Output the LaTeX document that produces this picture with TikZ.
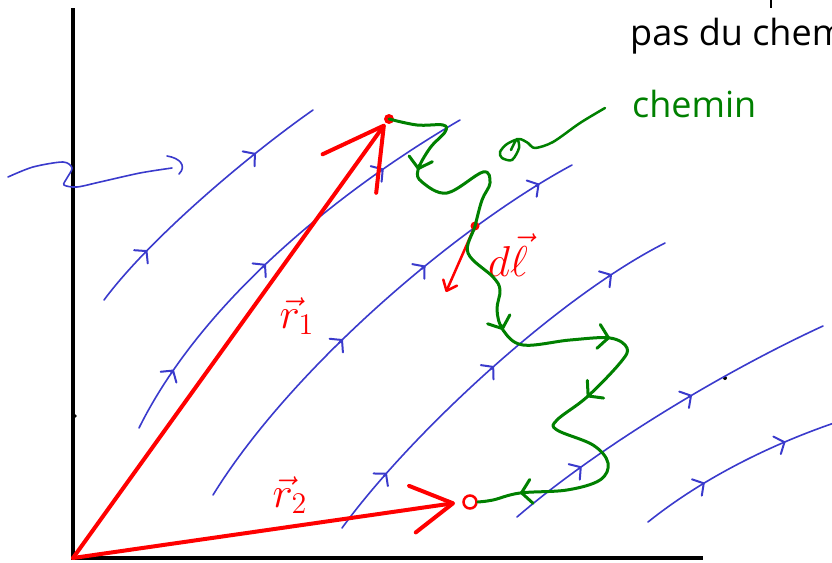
\documentclass[tikz,border=0pt]{standalone}
\usepackage{fontspec}
\setsansfont{Open Sans}
\usetikzlibrary{arrows.meta}
\definecolor{penblue}{RGB}{58,58,204}
\definecolor{pengreen}{RGB}{0,128,0}
\definecolor{penred}{RGB}{255,0,0}
\tikzset{
  fieldline/.style={penblue, line width=1.6pt, line cap=round, line join=round},
  fieldhead/.style={fieldline, line width=2pt, -{Straight Barb[length=8pt, width=19pt, round]}},
  pathline/.style={pengreen, line width=3pt, line cap=round, line join=round},
  pathhead/.style={pathline, -{Straight Barb[length=10pt, width=24pt, round]}},
  vecarrow/.style 2 args={penred, line width=4pt, line cap=round, -{Straight Barb[length=#1, width=#2, round]}},
  axisline/.style={black, line width=4pt},
  reddot/.style={circle, fill=penred, inner sep=0pt, minimum size=10pt},
  enddot/.style={circle, draw=penred, line width=2.5pt, inner sep=0pt, minimum size=13pt},
  vlabel/.style={text=penred, font=\LARGE, scale=2.5, inner sep=0pt},
  handtext/.style={font=\sffamily\fontsize{36}{42}\selectfont, inner sep=0pt}
}
\begin{document}
\begin{tikzpicture}[x=1pt, y=-1pt]
  \useasboundingbox (0,0) rectangle (832,562);
  \clip (0,0) rectangle (832,562);

  \draw[axisline] (73,8) -- (73,558) -- (703,558);
  \fill (75,416) circle (1.8);
  \fill (725,378) circle (2);
  \draw[line width=1.5pt] (771,0) -- (771,8);

  \node[handtext, anchor=base west] (pastxt) at (630,45) {pas du chemin};
  \node[handtext, anchor=base west, text=pengreen] (chemintxt) at (632,117) {chemin};

  % lignes de champ
  \draw[fieldline] plot[smooth] coordinates {(8,177) (33,167) (63,162) (72,168) (67,178) (64,185) (77,187) (100,182) (140,173) (172,168)};
  \draw[fieldline] (167,156) .. controls (180,158) and (187,166) .. (179,174);
  \draw[fieldline] (104,300) .. controls (150,238) and (250,154) .. (313,110)
    coordinate[pos=0.24] (f2a) coordinate[pos=0.25] (f2b)
    coordinate[pos=0.72] (f2c) coordinate[pos=0.73] (f2d);
  \draw[fieldline] (139,428) .. controls (205,295) and (350,184) .. (460,120)
    coordinate[pos=0.14] (f3a) coordinate[pos=0.15] (f3b)
    coordinate[pos=0.44] (f3c) coordinate[pos=0.45] (f3d)
    coordinate[pos=0.77] (f3e) coordinate[pos=0.78] (f3f);
  \draw[fieldline] (213,495) .. controls (290,370) and (455,228) .. (572,165)
    coordinate[pos=0.40] (f4a) coordinate[pos=0.41] (f4b)
    coordinate[pos=0.61] (f4c) coordinate[pos=0.62] (f4d)
    coordinate[pos=0.90] (f4e) coordinate[pos=0.91] (f4f);
  \draw[fieldline] (342,528) .. controls (412,432) and (560,296) .. (665,243)
    coordinate[pos=0.17] (f5a) coordinate[pos=0.18] (f5b)
    coordinate[pos=0.50] (f5c) coordinate[pos=0.51] (f5d)
    coordinate[pos=0.83] (f5e) coordinate[pos=0.84] (f5f);
  \draw[fieldline] (517,517) .. controls (597,448) and (723,372) .. (823,326)
    coordinate[pos=0.23] (f6a) coordinate[pos=0.24] (f6b)
    coordinate[pos=0.58] (f6c) coordinate[pos=0.59] (f6d);
  \draw[fieldline] (648,522) .. controls (708,474) and (780,441) .. (840,421)
    coordinate[pos=0.29] (f7a) coordinate[pos=0.30] (f7b)
    coordinate[pos=0.70] (f7c) coordinate[pos=0.71] (f7d);
  \foreach \a/\b in {f2a/f2b, f2c/f2d, f3a/f3b, f3c/f3d, f3e/f3f, f4a/f4b, f4c/f4d, f4e/f4f,
      f5a/f5b, f5c/f5d, f5e/f5f, f6a/f6b, f6c/f6d, f7a/f7b, f7c/f7d}
    \draw[fieldhead] (\a) -- (\b);

  % vecteurs
  \coordinate (O) at (73,558);
  \coordinate (P1) at (385,124);
  \coordinate (P2) at (455,503);
  \node[reddot] (A) at (389,119) {};
  \node[reddot, minimum size=9pt] (M) at (475,226) {};
  \node[enddot] (B) at (470,502) {};
  \coordinate (D) at (446,292);
  \draw[vecarrow={59pt}{66pt}] (O) -- (P1);
  \draw[vecarrow={41pt}{47pt}] (O) -- (P2);
  \draw[vecarrow={9pt}{15pt}, line width=2.5pt] (M.center) -- (D);

  \node[vlabel] (r1) at (297,316) {$\vec{r}_1$};
  \node[vlabel] (r2) at (290,495) {$\vec{r}_2$};
  \node[vlabel] (dl) at (508,255) {$d\vec{\ell}$};

  % chemin
  \draw[pathline] plot[smooth, tension=0.6] coordinates {(A.center) (417,125) (443,125) (445,132) (430,148) (418,170) (422,182) (447,193) (483,172) (490,183) (482,200) (M.center) (468,253) (493,277) (500,290) (497,310) (503,330) (523,345) (570,340) (610,338) (627,348) (620,363) (587,397) (557,420) (557,430) (593,445) (608,463) (600,480) (567,490) (520,493) (493,500) (B.east)};
  \foreach \ax/\ay/\bx/\by in {419.2/165.1/418/170, 501/325/503/330, 605/337.3/610/338,
      590.7/393.6/587/397, 525/492.3/520/493}
    \draw[pathhead] (\ax,\ay) -- (\bx,\by);
  \draw[pathline, line width=2.5pt] plot[smooth] coordinates {(605,108) (580,123) (553,142) (535,148) (528,143) (519,139) (507,144) (500,152) (502,158) (512,160) (519,148) (517,139) (511,150)};
\end{tikzpicture}
\end{document}
